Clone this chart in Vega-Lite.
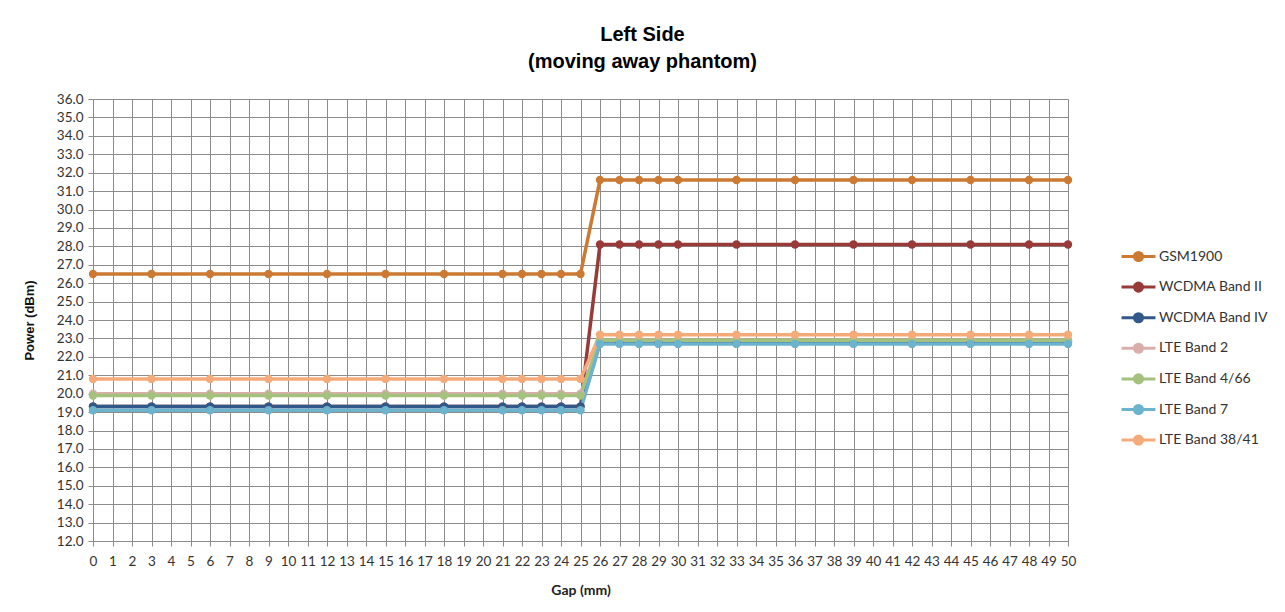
{
  "$schema": "https://vega.github.io/schema/vega-lite/v6.json",
  "width": 975,
  "height": 442,
  "autosize": {"type": "none"},
  "padding": {"left": 93, "top": 99, "right": 217, "bottom": 71},
  "background": "white",
  "title": {
    "text": ["Left Side", "(moving away phantom)"],
    "font": "Liberation Sans",
    "fontSize": 20,
    "fontWeight": "bold",
    "color": "#000000",
    "anchor": "middle",
    "dx": 62,
    "offset": 20,
    "lineHeight": 27
  },
  "data": {
    "values": [
      {"gap": 0, "GSM1900": 26.5, "WCDMA Band II": 19.3, "WCDMA Band IV": 19.3, "LTE Band 2": 20.0, "LTE Band 4/66": 19.9, "LTE Band 7": 19.1, "LTE Band 38/41": 20.8},
      {"gap": 3, "GSM1900": 26.5, "WCDMA Band II": 19.3, "WCDMA Band IV": 19.3, "LTE Band 2": 20.0, "LTE Band 4/66": 19.9, "LTE Band 7": 19.1, "LTE Band 38/41": 20.8},
      {"gap": 6, "GSM1900": 26.5, "WCDMA Band II": 19.3, "WCDMA Band IV": 19.3, "LTE Band 2": 20.0, "LTE Band 4/66": 19.9, "LTE Band 7": 19.1, "LTE Band 38/41": 20.8},
      {"gap": 9, "GSM1900": 26.5, "WCDMA Band II": 19.3, "WCDMA Band IV": 19.3, "LTE Band 2": 20.0, "LTE Band 4/66": 19.9, "LTE Band 7": 19.1, "LTE Band 38/41": 20.8},
      {"gap": 12, "GSM1900": 26.5, "WCDMA Band II": 19.3, "WCDMA Band IV": 19.3, "LTE Band 2": 20.0, "LTE Band 4/66": 19.9, "LTE Band 7": 19.1, "LTE Band 38/41": 20.8},
      {"gap": 15, "GSM1900": 26.5, "WCDMA Band II": 19.3, "WCDMA Band IV": 19.3, "LTE Band 2": 20.0, "LTE Band 4/66": 19.9, "LTE Band 7": 19.1, "LTE Band 38/41": 20.8},
      {"gap": 18, "GSM1900": 26.5, "WCDMA Band II": 19.3, "WCDMA Band IV": 19.3, "LTE Band 2": 20.0, "LTE Band 4/66": 19.9, "LTE Band 7": 19.1, "LTE Band 38/41": 20.8},
      {"gap": 21, "GSM1900": 26.5, "WCDMA Band II": 19.3, "WCDMA Band IV": 19.3, "LTE Band 2": 20.0, "LTE Band 4/66": 19.9, "LTE Band 7": 19.1, "LTE Band 38/41": 20.8},
      {"gap": 22, "GSM1900": 26.5, "WCDMA Band II": 19.3, "WCDMA Band IV": 19.3, "LTE Band 2": 20.0, "LTE Band 4/66": 19.9, "LTE Band 7": 19.1, "LTE Band 38/41": 20.8},
      {"gap": 23, "GSM1900": 26.5, "WCDMA Band II": 19.3, "WCDMA Band IV": 19.3, "LTE Band 2": 20.0, "LTE Band 4/66": 19.9, "LTE Band 7": 19.1, "LTE Band 38/41": 20.8},
      {"gap": 24, "GSM1900": 26.5, "WCDMA Band II": 19.3, "WCDMA Band IV": 19.3, "LTE Band 2": 20.0, "LTE Band 4/66": 19.9, "LTE Band 7": 19.1, "LTE Band 38/41": 20.8},
      {"gap": 25, "GSM1900": 26.5, "WCDMA Band II": 19.3, "WCDMA Band IV": 19.3, "LTE Band 2": 20.0, "LTE Band 4/66": 19.9, "LTE Band 7": 19.1, "LTE Band 38/41": 20.8},
      {"gap": 26, "GSM1900": 31.6, "WCDMA Band II": 28.1, "WCDMA Band IV": 22.8, "LTE Band 2": 22.9, "LTE Band 4/66": 22.9, "LTE Band 7": 22.7, "LTE Band 38/41": 23.2},
      {"gap": 27, "GSM1900": 31.6, "WCDMA Band II": 28.1, "WCDMA Band IV": 22.8, "LTE Band 2": 22.9, "LTE Band 4/66": 22.9, "LTE Band 7": 22.7, "LTE Band 38/41": 23.2},
      {"gap": 28, "GSM1900": 31.6, "WCDMA Band II": 28.1, "WCDMA Band IV": 22.8, "LTE Band 2": 22.9, "LTE Band 4/66": 22.9, "LTE Band 7": 22.7, "LTE Band 38/41": 23.2},
      {"gap": 29, "GSM1900": 31.6, "WCDMA Band II": 28.1, "WCDMA Band IV": 22.8, "LTE Band 2": 22.9, "LTE Band 4/66": 22.9, "LTE Band 7": 22.7, "LTE Band 38/41": 23.2},
      {"gap": 30, "GSM1900": 31.6, "WCDMA Band II": 28.1, "WCDMA Band IV": 22.8, "LTE Band 2": 22.9, "LTE Band 4/66": 22.9, "LTE Band 7": 22.7, "LTE Band 38/41": 23.2},
      {"gap": 33, "GSM1900": 31.6, "WCDMA Band II": 28.1, "WCDMA Band IV": 22.8, "LTE Band 2": 22.9, "LTE Band 4/66": 22.9, "LTE Band 7": 22.7, "LTE Band 38/41": 23.2},
      {"gap": 36, "GSM1900": 31.6, "WCDMA Band II": 28.1, "WCDMA Band IV": 22.8, "LTE Band 2": 22.9, "LTE Band 4/66": 22.9, "LTE Band 7": 22.7, "LTE Band 38/41": 23.2},
      {"gap": 39, "GSM1900": 31.6, "WCDMA Band II": 28.1, "WCDMA Band IV": 22.8, "LTE Band 2": 22.9, "LTE Band 4/66": 22.9, "LTE Band 7": 22.7, "LTE Band 38/41": 23.2},
      {"gap": 42, "GSM1900": 31.6, "WCDMA Band II": 28.1, "WCDMA Band IV": 22.8, "LTE Band 2": 22.9, "LTE Band 4/66": 22.9, "LTE Band 7": 22.7, "LTE Band 38/41": 23.2},
      {"gap": 45, "GSM1900": 31.6, "WCDMA Band II": 28.1, "WCDMA Band IV": 22.8, "LTE Band 2": 22.9, "LTE Band 4/66": 22.9, "LTE Band 7": 22.7, "LTE Band 38/41": 23.2},
      {"gap": 48, "GSM1900": 31.6, "WCDMA Band II": 28.1, "WCDMA Band IV": 22.8, "LTE Band 2": 22.9, "LTE Band 4/66": 22.9, "LTE Band 7": 22.7, "LTE Band 38/41": 23.2},
      {"gap": 50, "GSM1900": 31.6, "WCDMA Band II": 28.1, "WCDMA Band IV": 22.8, "LTE Band 2": 22.9, "LTE Band 4/66": 22.9, "LTE Band 7": 22.7, "LTE Band 38/41": 23.2}
    ]
  },
  "transform": [
    {"fold": ["GSM1900", "WCDMA Band II", "WCDMA Band IV", "LTE Band 2", "LTE Band 4/66", "LTE Band 7", "LTE Band 38/41"], "as": ["series", "power"]}
  ],
  "encoding": {
    "x": {
      "field": "gap",
      "type": "quantitative",
      "scale": {"domain": [0, 50], "nice": false, "zero": false},
      "axis": {
        "title": "Gap (mm)",
        "values": [0,1,2,3,4,5,6,7,8,9,10,11,12,13,14,15,16,17,18,19,20,21,22,23,24,25,26,27,28,29,30,31,32,33,34,35,36,37,38,39,40,41,42,43,44,45,46,47,48,49,50],
        "format": "d",
        "labelFont": "Lato",
        "labelFontSize": 13.5,
        "labelColor": "#333333",
        "labelPadding": 8,
        "labelOverlap": false,
        "labelFlush": false,
        "tickSize": 5,
        "tickColor": "#8c8c8c",
        "domainColor": "#8c8c8c",
        "grid": true,
        "gridColor": "#8c8c8c",
        "gridWidth": 1,
        "titleFont": "Lato",
        "titleFontSize": 14,
        "titleFontWeight": "bold",
        "titleColor": "#222222",
        "titlePadding": 16
      }
    },
    "y": {
      "field": "power",
      "type": "quantitative",
      "scale": {"domain": [12, 36], "nice": false, "zero": false},
      "axis": {
        "title": "Power (dBm)",
        "values": [12,13,14,15,16,17,18,19,20,21,22,23,24,25,26,27,28,29,30,31,32,33,34,35,36],
        "format": ".1f",
        "labelFont": "Lato",
        "labelFontSize": 13.5,
        "labelColor": "#333333",
        "labelPadding": 5,
        "tickSize": 5,
        "tickColor": "#8c8c8c",
        "domainColor": "#8c8c8c",
        "grid": true,
        "gridColor": "#8c8c8c",
        "gridWidth": 1,
        "titleFont": "Liberation Sans",
        "titleFontSize": 13,
        "titleFontWeight": "bold",
        "titleColor": "#111111",
        "titlePadding": 20
      }
    },
    "color": {
      "field": "series",
      "type": "nominal",
      "scale": {
        "domain": ["GSM1900", "WCDMA Band II", "WCDMA Band IV", "LTE Band 2", "LTE Band 4/66", "LTE Band 7", "LTE Band 38/41"],
        "range": ["#CC7A33", "#983A38", "#30598A", "#DAAEAB", "#A4C27E", "#6CB3CE", "#F5AA7A"]
      },
      "legend": {
        "title": null,
        "orient": "none",
        "legendX": 1027,
        "legendY": 139,
        "symbolType": "M-1,0L1,0M-0.24,0A0.24,0.24,0,1,1,0.24,0A0.24,0.24,0,1,1,-0.24,0",
        "symbolSize": 1150,
        "symbolStrokeWidth": 3,
        "rowPadding": 1.6,
        "labelFont": "Lato",
        "labelFontSize": 14,
        "labelColor": "#333333",
        "labelOffset": 2,
        "encode": {
          "symbols": {
            "update": {
              "fill": {"scale": "color", "field": "value"},
              "stroke": {"scale": "color", "field": "value"},
              "opacity": {"value": 1}
            }
          }
        }
      }
    }
  },
  "layer": [
    {"mark": {"type": "line", "strokeWidth": 3.5}},
    {"mark": {"type": "circle", "size": 70, "opacity": 1}}
  ],
  "config": {
    "view": {"stroke": null}
  }
}
